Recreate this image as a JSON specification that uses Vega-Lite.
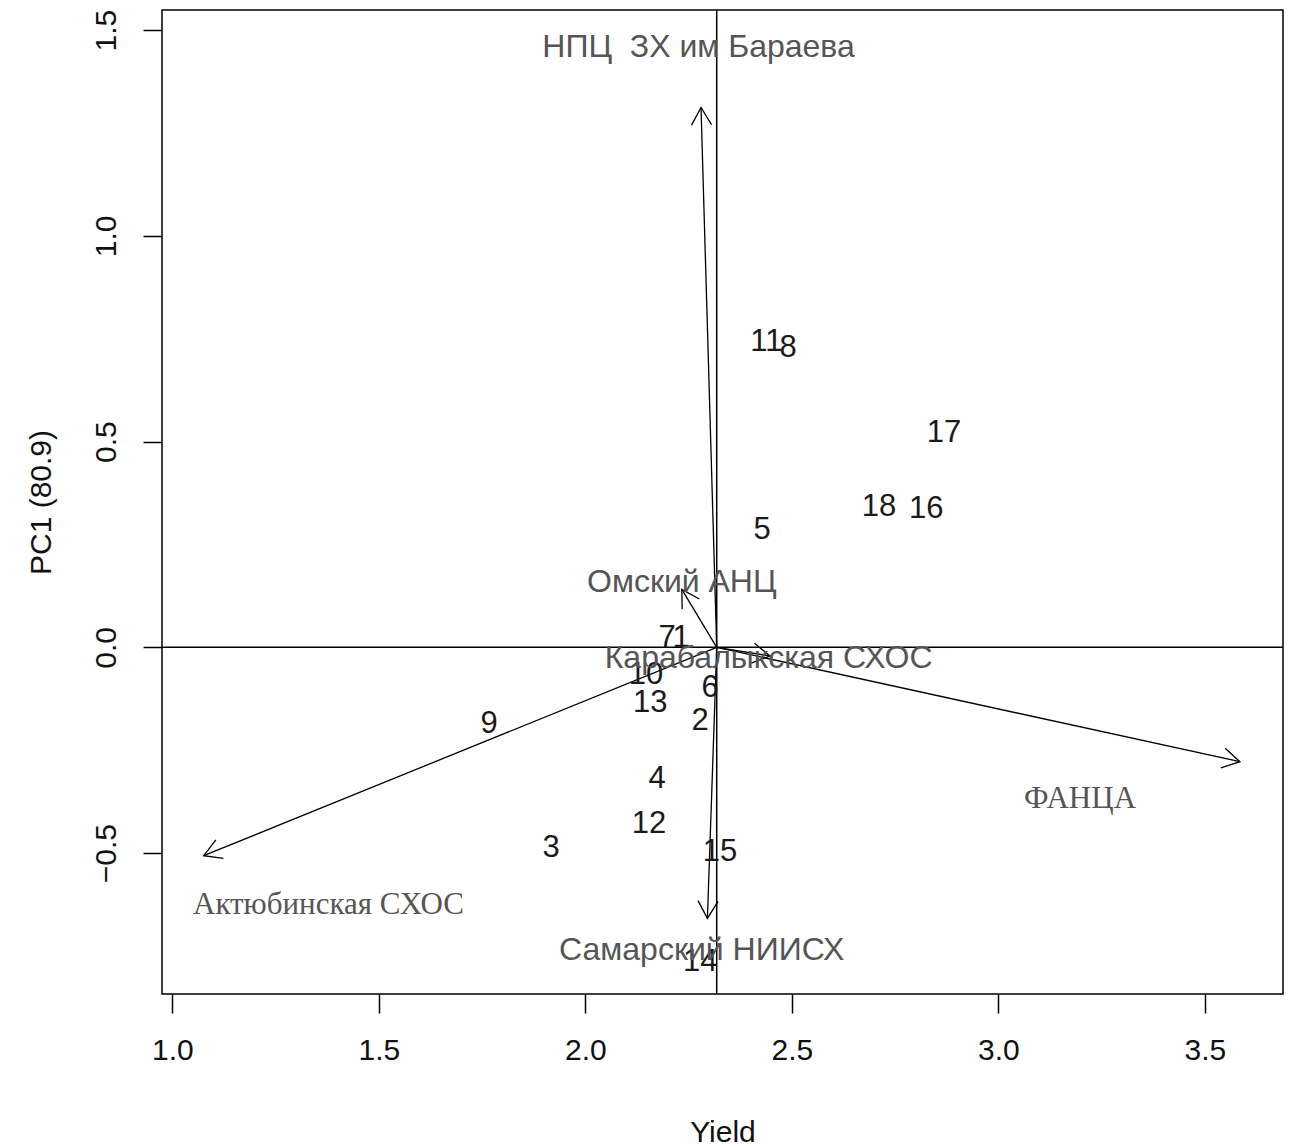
{
  "$schema": "https://vega.github.io/schema/vega-lite/v6.json",
  "width": 1121,
  "height": 984,
  "autosize": {"type": "none"},
  "padding": {"left": 162, "top": 10, "right": 8, "bottom": 153},
  "background": "white",
  "config": {
    "view": {"stroke": "#000000", "strokeWidth": 1.5},
    "axis": {
      "grid": false,
      "domain": false,
      "ticks": true,
      "tickColor": "#000000",
      "tickWidth": 1.5,
      "tickSize": 19,
      "labelFont": "Liberation Sans",
      "labelFontSize": 30,
      "labelColor": "#111111",
      "labelPadding": 22,
      "titleFont": "Liberation Sans",
      "titleFontSize": 30,
      "titleFontWeight": "normal",
      "titleColor": "#111111",
      "labelFlush": false,
      "labelOverlap": false
    },
    "axisX": {"titlePadding": 52},
    "axisY": {"labelAngle": -90, "labelAlign": "center", "labelBaseline": "bottom", "titlePadding": 35}
  },
  "datasets": {
    "points": [
      {"id": "11", "yield": 2.438, "pc1": 0.742},
      {"id": "8", "yield": 2.491, "pc1": 0.727},
      {"id": "17", "yield": 2.868, "pc1": 0.521},
      {"id": "18", "yield": 2.711, "pc1": 0.341},
      {"id": "16", "yield": 2.825, "pc1": 0.336},
      {"id": "5", "yield": 2.428, "pc1": 0.285},
      {"id": "7", "yield": 2.198, "pc1": 0.023},
      {"id": "1", "yield": 2.232, "pc1": 0.023},
      {"id": "10", "yield": 2.147, "pc1": -0.067},
      {"id": "6", "yield": 2.302, "pc1": -0.099},
      {"id": "13", "yield": 2.157, "pc1": -0.135},
      {"id": "2", "yield": 2.278, "pc1": -0.179},
      {"id": "9", "yield": 1.767, "pc1": -0.186},
      {"id": "4", "yield": 2.174, "pc1": -0.32},
      {"id": "12", "yield": 2.154, "pc1": -0.43},
      {"id": "3", "yield": 1.917, "pc1": -0.488},
      {"id": "15", "yield": 2.326, "pc1": -0.497},
      {"id": "14", "yield": 2.278, "pc1": -0.765}
    ],
    "arrows": [
      {"name": "НПЦ\u00a0 ЗХ им Бараева", "x0": 2.318, "y0": 0, "x": 2.28, "y": 1.312, "lx": 2.274, "ly": 1.459, "family": "sans"},
      {"name": "Омский АНЦ", "x0": 2.318, "y0": 0, "x": 2.2335, "y": 0.141, "lx": 2.2335, "ly": 0.159, "family": "sans"},
      {"name": "Карабалыкская СХОС", "x0": 2.318, "y0": 0, "x": 2.447, "y": -0.021, "lx": 2.4436, "ly": -0.026, "family": "sans"},
      {"name": "ФАНЦА", "x0": 2.318, "y0": 0, "x": 3.5847, "y": -0.278, "lx": 3.1975, "ly": -0.3686, "family": "serif"},
      {"name": "Актюбинская СХОС", "x0": 2.318, "y0": 0, "x": 1.0758, "y": -0.5064, "lx": 1.378, "ly": -0.626, "family": "serif"},
      {"name": "Самарский НИИСХ", "x0": 2.318, "y0": 0, "x": 2.2955, "y": -0.6586, "lx": 2.2815, "ly": -0.735, "family": "sans"}
    ],
    "refs": [
      {"kind": "v", "value": 2.318},
      {"kind": "h", "value": 0}
    ]
  },
  "layer": [
    {
      "data": {"name": "refs"},
      "transform": [{"filter": "datum.kind === 'v'"}],
      "mark": {"type": "rule", "color": "#000000", "strokeWidth": 1.5},
      "encoding": {
        "x": {"field": "value", "type": "quantitative", "scale": {"domain": [0.975, 3.689], "nice": false, "zero": false}, "title": "Yield", "axis": {"values": [1, 1.5, 2, 2.5, 3, 3.5], "format": ".1f"}}
      }
    },
    {
      "data": {"name": "refs"},
      "transform": [{"filter": "datum.kind === 'h'"}],
      "mark": {"type": "rule", "color": "#000000", "strokeWidth": 1.5},
      "encoding": {
        "y": {"field": "value", "type": "quantitative", "scale": {"domain": [-0.8425, 1.549], "nice": false, "zero": false}, "title": "PC1 (80.9)", "axis": {"values": [-0.5, 0, 0.5, 1, 1.5], "format": ".1f"}}
      }
    },
    {
      "data": {"name": "arrows"},
      "mark": {"type": "rule", "color": "#000000", "strokeWidth": 1.3},
      "encoding": {
        "x": {"field": "x0", "type": "quantitative", "scale": {"domain": [0.975, 3.689], "nice": false, "zero": false}, "title": "Yield", "axis": {"values": [1, 1.5, 2, 2.5, 3, 3.5], "format": ".1f"}},
        "y": {"field": "y0", "type": "quantitative", "scale": {"domain": [-0.8425, 1.549], "nice": false, "zero": false}, "title": "PC1 (80.9)", "axis": {"values": [-0.5, 0, 0.5, 1, 1.5], "format": ".1f"}},
        "x2": {"field": "x"},
        "y2": {"field": "y"}
      }
    },
    {
      "data": {"name": "arrows"},
      "transform": [
        {"calculate": "atan2((datum.x - datum.x0) * 413.2, (datum.y - datum.y0) * 411.5) * 180 / PI", "as": "angle"}
      ],
      "mark": {"type": "point", "shape": "M -0.5 0.866 L 0 0 L 0.5 0.866", "filled": false, "stroke": "#000000", "strokeWidth": 1.3, "size": 1600, "opacity": 1},
      "encoding": {
        "x": {"field": "x", "type": "quantitative", "scale": {"domain": [0.975, 3.689], "nice": false, "zero": false}, "title": "Yield", "axis": {"values": [1, 1.5, 2, 2.5, 3, 3.5], "format": ".1f"}},
        "y": {"field": "y", "type": "quantitative", "scale": {"domain": [-0.8425, 1.549], "nice": false, "zero": false}, "title": "PC1 (80.9)", "axis": {"values": [-0.5, 0, 0.5, 1, 1.5], "format": ".1f"}},
        "angle": {"field": "angle", "type": "quantitative", "scale": null}
      }
    },
    {
      "data": {"name": "points"},
      "mark": {"type": "text", "font": "Liberation Sans", "fontSize": 31, "color": "#1a1a1a", "align": "center", "baseline": "middle"},
      "encoding": {
        "x": {"field": "yield", "type": "quantitative", "scale": {"domain": [0.975, 3.689], "nice": false, "zero": false}, "title": "Yield", "axis": {"values": [1, 1.5, 2, 2.5, 3, 3.5], "format": ".1f"}},
        "y": {"field": "pc1", "type": "quantitative", "scale": {"domain": [-0.8425, 1.549], "nice": false, "zero": false}, "title": "PC1 (80.9)", "axis": {"values": [-0.5, 0, 0.5, 1, 1.5], "format": ".1f"}},
        "text": {"field": "id"}
      }
    },
    {
      "data": {"name": "arrows"},
      "transform": [{"filter": "datum.family === 'sans'"}],
      "mark": {"type": "text", "font": "Liberation Sans", "fontSize": 32, "color": "#555555", "align": "center", "baseline": "middle"},
      "encoding": {
        "x": {"field": "lx", "type": "quantitative", "scale": {"domain": [0.975, 3.689], "nice": false, "zero": false}, "title": "Yield", "axis": {"values": [1, 1.5, 2, 2.5, 3, 3.5], "format": ".1f"}},
        "y": {"field": "ly", "type": "quantitative", "scale": {"domain": [-0.8425, 1.549], "nice": false, "zero": false}, "title": "PC1 (80.9)", "axis": {"values": [-0.5, 0, 0.5, 1, 1.5], "format": ".1f"}},
        "text": {"field": "name"}
      }
    },
    {
      "data": {"name": "arrows"},
      "transform": [{"filter": "datum.family === 'serif'"}],
      "mark": {"type": "text", "font": "Liberation Serif", "fontSize": 31, "color": "#555555", "align": "center", "baseline": "middle"},
      "encoding": {
        "x": {"field": "lx", "type": "quantitative", "scale": {"domain": [0.975, 3.689], "nice": false, "zero": false}, "title": "Yield", "axis": {"values": [1, 1.5, 2, 2.5, 3, 3.5], "format": ".1f"}},
        "y": {"field": "ly", "type": "quantitative", "scale": {"domain": [-0.8425, 1.549], "nice": false, "zero": false}, "title": "PC1 (80.9)", "axis": {"values": [-0.5, 0, 0.5, 1, 1.5], "format": ".1f"}},
        "text": {"field": "name"}
      }
    }
  ]
}
